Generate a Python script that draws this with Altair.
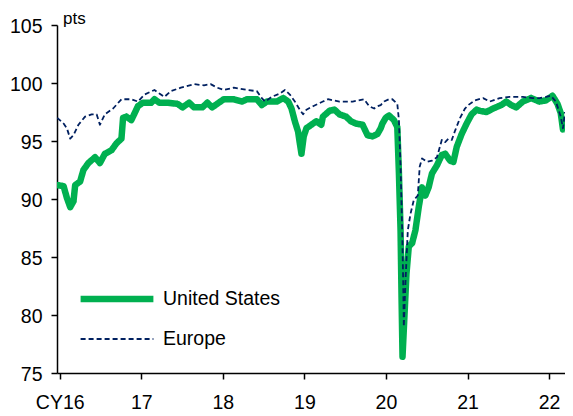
import altair as alt
import pandas as pd

# ---- data (decimal year, index points) ----
us_t = [2015.97, 2016.048, 2016.088, 2016.129, 2016.169, 2016.190, 2016.250, 2016.291, 2016.352, 2016.433,
        2016.493, 2016.554, 2016.635, 2016.696, 2016.757, 2016.777, 2016.817, 2016.878, 2016.919, 2016.959,
        2017.020, 2017.121, 2017.162, 2017.222, 2017.324, 2017.445, 2017.506, 2017.587, 2017.648, 2017.749,
        2017.810, 2017.870, 2017.930, 2018.012, 2018.134, 2018.235, 2018.296, 2018.417, 2018.478, 2018.539,
        2018.660, 2018.741, 2018.802, 2018.842, 2018.883, 2018.923, 2018.944, 2018.964, 2018.992, 2019.025,
        2019.085, 2019.146, 2019.207, 2019.227, 2019.308, 2019.369, 2019.430, 2019.511, 2019.571, 2019.632,
        2019.713, 2019.774, 2019.835, 2019.895, 2019.936, 2019.956, 2019.997, 2020.037, 2020.098, 2020.139,
        2020.159, 2020.179, 2020.191, 2020.203, 2020.228, 2020.252, 2020.280, 2020.321, 2020.361, 2020.402,
        2020.442, 2020.483, 2020.523, 2020.564, 2020.625, 2020.685, 2020.726, 2020.787, 2020.827, 2020.868,
        2020.928, 2020.989, 2021.050, 2021.111, 2021.151, 2021.232, 2021.313, 2021.414, 2021.475, 2021.536,
        2021.597, 2021.678, 2021.779, 2021.880, 2021.961, 2022.042, 2022.103, 2022.143, 2022.170, 2022.195]
us_v = [91.2, 91.1, 90.1, 89.3, 89.8, 91.2, 91.5, 92.5, 93.1, 93.6,
        93.1, 93.9, 94.2, 94.8, 95.2, 97.0, 97.1, 96.8, 97.4, 98.0,
        98.3, 98.3, 98.6, 98.3, 98.3, 98.2, 97.9, 98.3, 97.9, 97.9,
        98.3, 97.9, 98.2, 98.6, 98.6, 98.4, 98.6, 98.6, 98.1, 98.4,
        98.4, 98.7, 98.4, 97.8, 96.7, 95.8, 94.8, 93.9, 95.4, 96.1,
        96.4, 96.7, 96.4, 97.1, 97.6, 97.7, 97.3, 97.1, 96.7, 96.5,
        96.4, 95.5, 95.4, 95.6, 96.1, 96.5, 97.0, 97.2, 96.8, 96.2,
        92.2, 87.3, 81.6, 76.4, 80.1, 83.6, 85.9, 86.2, 87.3, 89.3,
        91.0, 90.3, 91.0, 92.2, 92.9, 93.8, 93.9, 93.3, 93.2, 94.5,
        95.6, 96.5, 97.3, 97.7, 97.6, 97.5, 97.8, 98.1, 98.4, 98.1,
        97.9, 98.4, 98.7, 98.4, 98.5, 98.9, 98.2, 97.4, 96.0, 96.8]

eu_t = [2015.97, 2016.048, 2016.088, 2016.129, 2016.169, 2016.230, 2016.311, 2016.392, 2016.453, 2016.493,
        2016.554, 2016.655, 2016.757, 2016.878, 2016.959, 2017.040, 2017.162, 2017.222, 2017.283, 2017.364,
        2017.486, 2017.648, 2017.769, 2017.850, 2017.930, 2018.012, 2018.134, 2018.296, 2018.417, 2018.478,
        2018.518, 2018.599, 2018.701, 2018.761, 2018.822, 2018.883, 2018.944, 2018.984, 2019.025, 2019.106,
        2019.227, 2019.288, 2019.430, 2019.592, 2019.733, 2019.794, 2019.855, 2019.896, 2019.936, 2019.977,
        2020.037, 2020.078, 2020.139, 2020.159, 2020.179, 2020.199, 2020.211, 2020.219, 2020.240, 2020.268,
        2020.300, 2020.341, 2020.390, 2020.414, 2020.442, 2020.503, 2020.564, 2020.625, 2020.685, 2020.726,
        2020.767, 2020.807, 2020.848, 2020.909, 2020.969, 2021.009, 2021.090, 2021.191, 2021.272, 2021.394,
        2021.516, 2021.678, 2021.799, 2021.880, 2021.961, 2022.022, 2022.083, 2022.143, 2022.170, 2022.195]
eu_v = [97.0, 96.5, 96.1, 95.2, 95.5, 96.4, 97.1, 97.3, 97.3, 96.4,
        97.3, 97.8, 98.6, 98.6, 98.4, 99.0, 99.4, 99.1, 98.8, 99.3,
        99.6, 99.9, 99.8, 99.9, 99.6, 99.4, 99.6, 99.4, 99.3, 98.7,
        98.4, 98.8, 99.1, 99.4, 99.0, 98.4, 97.7, 97.3, 97.7, 98.0,
        98.4, 98.6, 98.4, 98.4, 98.6, 98.0, 97.8, 98.0, 98.1, 98.4,
        98.6, 98.6, 98.2, 96.8, 92.8, 87.3, 83.0, 79.0, 83.0, 87.3,
        88.7, 89.9, 90.3, 92.8, 93.5, 93.2, 93.3, 93.6, 95.1, 94.9,
        95.2, 95.1, 95.9, 97.0, 97.8, 98.1, 98.5, 98.7, 98.4, 98.7,
        98.8, 98.8, 98.7, 98.7, 98.8, 98.9, 98.4, 97.1, 96.1, 97.5]

series_names = ["United States", "Europe"]
series_colors = ["#00B050", "#002060"]
series_widths = [6.5, 1.8]
series_dashes = [[1, 0], [5, 3]]
year_ticks = [2016, 2017, 2018, 2019, 2020, 2021, 2022]
value_ticks = [75, 80, 85, 90, 95, 100, 105]

df = pd.DataFrame({
    "t": us_t + eu_t,
    "v": us_v + eu_v,
    "series": [series_names[0]] * len(us_t) + [series_names[1]] * len(eu_t),
})

FONT = "Liberation Sans"

legend = alt.Legend(
    title=None, orient="none", legendX=20, legendY=264,
    symbolType="stroke", symbolSize=5300, clipHeight=20, rowPadding=20,
    labelFontSize=19.5, labelFont=FONT, labelColor="black", labelOffset=6,
    padding=0, symbolOffset=0,
)

base = alt.Chart(df).encode(
    x=alt.X("t:Q",
            scale=alt.Scale(domain=[2015.967, 2022.195], nice=False, zero=False),
            axis=alt.Axis(values=year_ticks, title=None, grid=False,
                          labelExpr="datum.value == 2016 ? 'CY16' : '' + (datum.value - 2000)",
                          tickSize=6, labelPadding=14, labelFontSize=19.5,
                          labelFlush=False, labelOverlap=False)),
    y=alt.Y("v:Q",
            scale=alt.Scale(domain=[75, 105], nice=False, zero=False),
            axis=alt.Axis(values=value_ticks, grid=False, title="pts",
                          titleAngle=0, titleAlign="left", titleBaseline="alphabetic",
                          titleX=5.5, titleY=-1.5, titleFontSize=17, titleFontWeight="normal",
                          titleFont=FONT, titleColor="black",
                          tickSize=6, labelPadding=9, labelFontSize=19.5, labelOffset=1)),
    color=alt.Color("series:N", scale=alt.Scale(domain=series_names, range=series_colors),
                    legend=legend, sort=series_names),
    strokeDash=alt.StrokeDash("series:N", scale=alt.Scale(domain=series_names, range=series_dashes),
                              legend=legend, sort=series_names),
    strokeWidth=alt.StrokeWidth("series:N", scale=alt.Scale(domain=series_names, range=series_widths),
                                legend=legend, sort=series_names),
)

us_line = base.mark_line(strokeJoin="round", strokeCap="round", clip=True).transform_filter(
    alt.datum.series == series_names[0])
eu_line = base.mark_line(strokeJoin="round", clip=True).transform_filter(
    alt.datum.series == series_names[1])

chart = alt.layer(us_line, eu_line).properties(
    width=508, height=348,
    padding={"left": 49, "top": 17, "right": 0, "bottom": 40},
    autosize=alt.AutoSizeParams(type="none"),
).configure_view(stroke=None).configure_axis(
    domainColor="black", domainWidth=1.5, tickColor="black", tickWidth=1.5,
    labelColor="black", labelFont=FONT,
)

chart.save("out.html", embed_options={"renderer": "svg", "actions": False})
